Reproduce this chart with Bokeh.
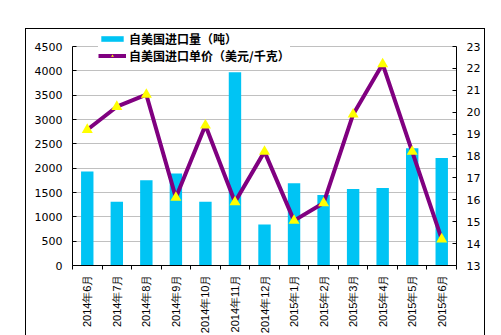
from math import pi
from bokeh.plotting import figure
from bokeh.models import Range1d, LinearAxis, FixedTicker, Legend, LegendItem, ColumnDataSource
from bokeh.embed import file_html
from bokeh.resources import INLINE

months = ["2014年6月", "2014年7月", "2014年8月", "2014年9月", "2014年10月", "2014年11月",
          "2014年12月", "2015年1月", "2015年2月", "2015年3月", "2015年4月", "2015年5月", "2015年6月"]
volume = [1930, 1310, 1750, 1890, 1310, 3970, 840, 1690, 1450, 1570, 1590, 2410, 2210]
price = [19.2, 20.25, 20.8, 16.1, 19.4, 15.9, 18.2, 15.05, 15.85, 19.9, 22.2, 18.2, 14.2]
left_ticks = [0, 500, 1000, 1500, 2000, 2500, 3000, 3500, 4000, 4500]
right_ticks = [13, 14, 15, 16, 17, 18, 19, 20, 21, 22, 23]

x = list(range(1, len(months) + 1))
src = ColumnDataSource(dict(x=x, volume=volume, price=price))

# frame extends a little above the top gridline so the legend can straddle it
head = 236.0 / 219.0
p = figure(width=458, height=306, output_backend="svg", toolbar_location=None,
           x_range=Range1d(0.5, len(months) + 0.5), y_range=Range1d(0, 4500 * head),
           min_border_left=46, min_border_right=30, min_border_top=0, min_border_bottom=40)
p.margin = (28, 0, 0, 25)
p.styles = {"width": "458px", "height": "306px", "box-sizing": "content-box",
            "border-left": "1px solid black", "border-top": "1px solid black",
            "border-right": "1px solid black"}
p.outline_line_color = None
p.background_fill_color = "white"
p.border_fill_alpha = 0
p.extra_y_ranges = {"price": Range1d(13, 13 + 10 * head)}

bars = p.vbar(x="x", top="volume", width=0.42, source=src, fill_color="#00C4F4", line_color=None)
line = p.line(x="x", y="price", source=src, y_range_name="price", line_color="#800080", line_width=4)
marks = p.scatter(x="x", y="price", source=src, y_range_name="price", marker="triangle",
                  size=11, fill_color="#FFFF00", line_color=None)

lt = FixedTicker(ticks=left_ticks)
ya = p.yaxis[0]
ya.ticker = lt
ya.bounds = (0, 4500)
ya.axis_line_color = "black"
ya.major_tick_in = 4
ya.major_tick_out = 0
ya.minor_tick_line_color = None
ya.major_label_text_font = "DejaVu Sans"
ya.major_label_text_font_size = "11px"
ya.major_label_text_color = "black"
ya.major_label_standoff = 10
p.ygrid.ticker = lt
p.ygrid.grid_line_color = "#C0C0C0"
p.xgrid.visible = False

ra = LinearAxis(y_range_name="price", ticker=FixedTicker(ticks=right_ticks), bounds=(13, 23))
ra.axis_line_color = "black"
ra.major_tick_in = 4
ra.major_tick_out = 0
ra.minor_tick_line_color = None
ra.major_label_text_font = "DejaVu Sans"
ra.major_label_text_font_size = "11px"
ra.major_label_text_color = "black"
ra.major_label_standoff = 10
p.add_layout(ra, "right")

xa = p.xaxis[0]
xa.ticker = FixedTicker(ticks=x, minor_ticks=[i + 0.5 for i in range(0, len(months) + 1)])
xa.major_label_overrides = {i: m for i, m in zip(x, months)}
xa.major_tick_line_color = None
xa.minor_tick_in = 0
xa.minor_tick_out = 4
xa.minor_tick_line_color = "black"
xa.axis_line_color = "black"
xa.major_label_orientation = pi / 2
xa.major_label_text_font = "Liberation Sans"
xa.major_label_text_font_size = "11px"
xa.major_label_text_color = "black"
xa.major_label_standoff = 3

legend = Legend(items=[LegendItem(label="自美国进口量（吨）", renderers=[bars]),
                       LegendItem(label="自美国进口单价（美元/千克）", renderers=[line, marks])],
                location=(26, 201))
legend.label_text_font = "Noto Sans CJK SC"
legend.label_text_font_style = "bold"
legend.label_text_font_size = "12px"
legend.label_text_color = "black"
legend.glyph_width = 28
legend.glyph_height = 7
legend.label_height = 12
legend.label_standoff = 3
legend.padding = 0
legend.spacing = 0
legend.margin = 0
legend.border_line_color = None
legend.background_fill_color = "white"
legend.background_fill_alpha = 1.0
p.add_layout(legend)

open("out.html", "w").write(file_html(p, INLINE))
